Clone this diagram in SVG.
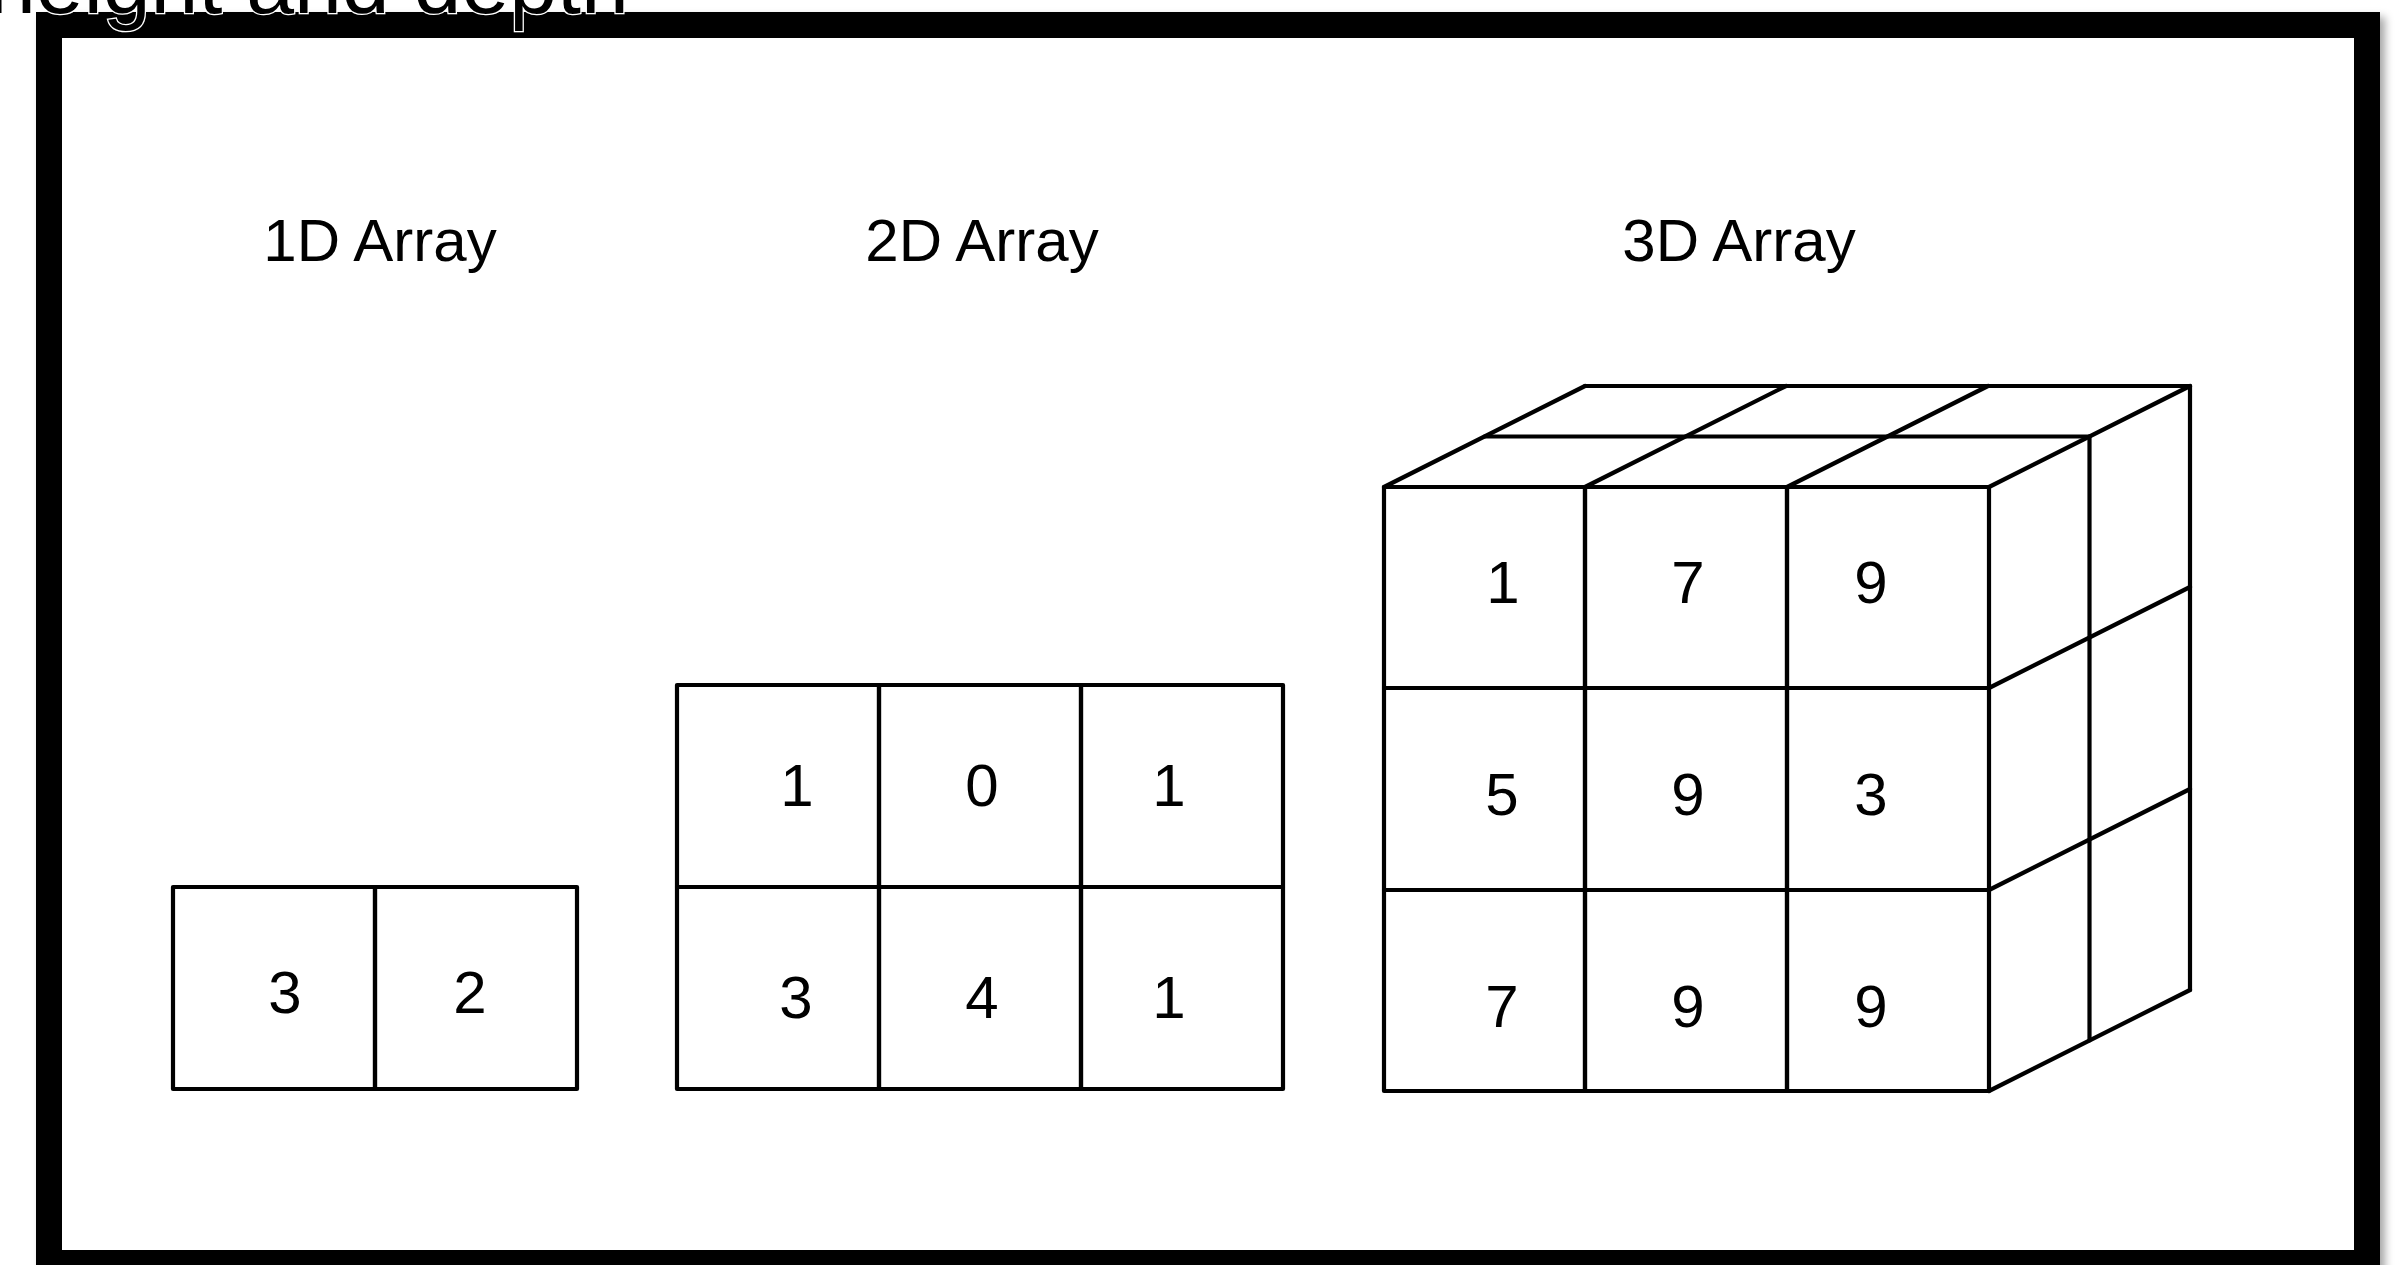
<svg xmlns="http://www.w3.org/2000/svg" width="2407" height="1265" viewBox="0 0 2407 1265">
<defs>
<filter id="shadow" x="-5%" y="-5%" width="110%" height="110%">
<feDropShadow dx="5" dy="5" stdDeviation="4" flood-color="#000" flood-opacity="0.35"/>
</filter>
<style>
.cell{fill:none;stroke:#000;stroke-width:4.2;stroke-linejoin:round;stroke-linecap:round}
.ln{stroke:#000;stroke-width:4.2;stroke-linecap:round;fill:none}
.num{font-family:"Liberation Sans",Arial,Helvetica,sans-serif;font-size:60px;fill:#000;text-anchor:middle}
.title{font-family:"Liberation Sans",Arial,Helvetica,sans-serif;font-size:60px;fill:#000;text-anchor:middle}
</style>
</defs>
<rect x="0" y="0" width="2407" height="1265" fill="#fff"/>
<g id="frame">
<rect x="49" y="25" width="2318" height="1238" fill="#fff" stroke="#000" stroke-width="26" filter="url(#shadow)"/>
</g>
<text x="-12" y="13" font-family="'Liberation Sans',Arial,sans-serif" font-size="86" fill="#000" stroke="#fff" stroke-width="2.5" paint-order="stroke">height and depth</text>
<g id="titles">
<text class="title" x="380" y="261">1D Array</text>
<text class="title" x="982" y="261">2D Array</text>
<text class="title" x="1739" y="261">3D Array</text>
</g>
<g id="array-1d">
<rect class="cell" x="173" y="887" width="202" height="202"/>
<rect class="cell" x="375" y="887" width="202" height="202"/>
<text class="num" x="285" y="1013">3</text>
<text class="num" x="470" y="1013">2</text>
</g>
<g id="array-2d">
<rect class="cell" x="677" y="685" width="202" height="202"/>
<rect class="cell" x="879" y="685" width="202" height="202"/>
<rect class="cell" x="1081" y="685" width="202" height="202"/>
<rect class="cell" x="677" y="887" width="202" height="202"/>
<rect class="cell" x="879" y="887" width="202" height="202"/>
<rect class="cell" x="1081" y="887" width="202" height="202"/>
<text class="num" x="797" y="806">1</text>
<text class="num" x="982" y="806">0</text>
<text class="num" x="1169" y="806">1</text>
<text class="num" x="796" y="1018">3</text>
<text class="num" x="982" y="1018">4</text>
<text class="num" x="1169" y="1018">1</text>
</g>
<g id="array-3d">
<g id="top-face">
<line class="ln" x1="1384" y1="487" x2="1585" y2="386"/>
<line class="ln" x1="1585" y1="487" x2="1786" y2="386"/>
<line class="ln" x1="1787" y1="487" x2="1988" y2="386"/>
<line class="ln" x1="1989" y1="487" x2="2190" y2="386"/>
<line class="ln" x1="1484.5" y1="436.5" x2="2089.5" y2="436.5"/>
<line class="ln" x1="1585" y1="386" x2="2190" y2="386"/>
</g>
<g id="right-face">
<line class="ln" x1="2089.5" y1="436.5" x2="2089.5" y2="1040.5"/>
<line class="ln" x1="2190" y1="386" x2="2190" y2="990"/>
<line class="ln" x1="1989" y1="688" x2="2190" y2="587"/>
<line class="ln" x1="1989" y1="890" x2="2190" y2="789"/>
<line class="ln" x1="1989" y1="1091" x2="2190" y2="990"/>
</g>
<g id="front-face">
<rect class="cell" x="1384" y="487" width="201" height="201"/>
<rect class="cell" x="1585" y="487" width="202" height="201"/>
<rect class="cell" x="1787" y="487" width="202" height="201"/>
<rect class="cell" x="1384" y="688" width="201" height="202"/>
<rect class="cell" x="1585" y="688" width="202" height="202"/>
<rect class="cell" x="1787" y="688" width="202" height="202"/>
<rect class="cell" x="1384" y="890" width="201" height="201"/>
<rect class="cell" x="1585" y="890" width="202" height="201"/>
<rect class="cell" x="1787" y="890" width="202" height="201"/>
<text class="num" x="1503" y="603">1</text>
<text class="num" x="1688" y="603">7</text>
<text class="num" x="1871" y="603">9</text>
<text class="num" x="1502" y="815">5</text>
<text class="num" x="1688" y="815">9</text>
<text class="num" x="1871" y="815">3</text>
<text class="num" x="1502" y="1027">7</text>
<text class="num" x="1688" y="1027">9</text>
<text class="num" x="1871" y="1027">9</text>
</g>
</g>
</svg>
